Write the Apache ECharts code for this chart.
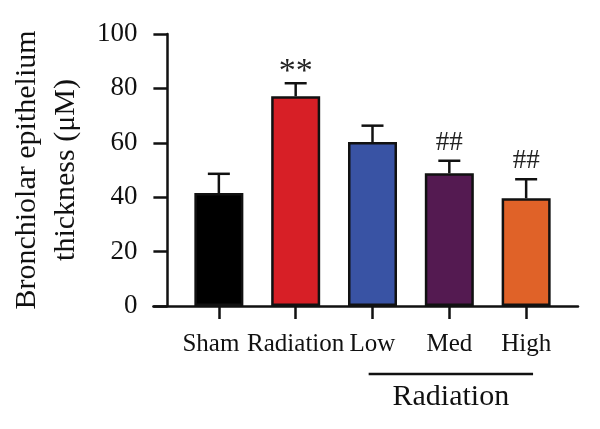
<!DOCTYPE html>
<html>
<head>
<meta charset="utf-8">
<script src="https://cdn.jsdelivr.net/npm/echarts@6/dist/echarts.min.js"></script>
<style>
  html, body { margin: 0; padding: 0; background: #fff; }
  #chart { width: 600px; height: 429px; }
</style>
</head>
<body>
<div id="chart"></div>
<script>
// values
const categories = ['Sham', 'Radiation', 'Low', 'Med', 'High'];
const means = [41.5, 77.1, 60.3, 48.8, 39.6];
const sds = [7.1, 4.8, 6.0, 4.6, 7.0];
const marks = ['', '**', '', '##', '##'];
const yTicks = [0, 20, 40, 60, 80, 100];
const groupLabel = 'Radiation';
const groupSpan = [2, 4]; // Low .. High

const barColors = ['#000000', '#d71f26', '#3953a4', '#541a51', '#e06228'];
const serif = '"Liberation Serif", "DejaVu Serif", serif';

const chart = echarts.init(document.getElementById('chart'));

const barData = categories.map((c, i) => ({
  value: [i, means[i]],
  itemStyle: { color: barColors[i] },
}));
const errData = categories.map((c, i) => [i, means[i], sds[i], i]);

chart.setOption({
  animation: false,
  grid: { left: 153, right: 22, top: 34, bottom: 123 },
  xAxis: {
    type: 'value',
    min: -0.852,
    max: 4.675,
    splitLine: { show: false },
    axisLine: { lineStyle: { color: '#111', width: 2.5 } },
    axisTick: {
      customValues: categories.map((c, i) => i),
      length: 13,
      lineStyle: { color: '#111', width: 2.5 },
    },
    axisLabel: {
      customValues: categories.map((c, i) => i),
      // first label sits a little left of its tick in the original
      formatter: (v) => (v === 0 ? '{s|' + categories[0] + '}' : categories[Math.round(v)]),
      rich: { s: { padding: [0, 16, 0, 0], fontFamily: serif, fontSize: 25, color: '#111' } },
      margin: 26,
      fontFamily: serif,
      fontSize: 25,
      color: '#111',
    },
  },
  yAxis: {
    type: 'value',
    min: 0,
    max: 100,
    interval: 20,
    offset: -14,
    splitLine: { show: false },
    axisLine: { show: true, onZero: false, lineStyle: { color: '#111', width: 2.5 } },
    axisTick: { show: true, length: 14, lineStyle: { color: '#111', width: 2.5 } },
    axisLabel: {
      margin: 30,
      fontFamily: serif,
      fontSize: 27,
      color: '#111',
      formatter: (v) => (yTicks.indexOf(v) >= 0 ? String(v) : ''),
    },
    name: 'Bronchiolar epithelium\nthickness (μM)',
    nameLocation: 'middle',
    nameRotate: 90,
    nameGap: 74,
    nameTextStyle: {
      fontFamily: serif,
      fontSize: 30,
      lineHeight: 39,
      color: '#111',
    },
  },
  series: [
    {
      type: 'bar',
      data: barData,
      barWidth: 49,
      itemStyle: { borderColor: '#111', borderWidth: 2.5 },
      z: 2,
    },
    {
      type: 'custom',
      data: errData,
      z: 3,
      renderItem: (params, api) => {
        const x = api.value(0);
        const m = api.value(1);
        const s = api.value(2);
        const idx = api.value(3);
        const base = api.coord([x, m]);
        const top = api.coord([x, m + s]);
        const half = 11;
        const stroke = { stroke: '#111', lineWidth: 2.5 };
        const children = [
          { type: 'line', shape: { x1: base[0], y1: base[1], x2: top[0], y2: top[1] }, style: stroke },
          { type: 'line', shape: { x1: top[0] - half, y1: top[1], x2: top[0] + half, y2: top[1] }, style: stroke },
        ];
        const mark = marks[idx];
        if (mark) {
          const star = mark.indexOf('*') >= 0;
          children.push({
            type: 'text',
            style: {
              text: mark,
              x: top[0],
              y: top[1] - (star ? 11 : 18),
              align: 'center',
              verticalAlign: 'middle',
              font: (star ? '34px ' : '27px ') + serif,
              fill: '#222',
            },
          });
        }
        return { type: 'group', children: children };
      },
    },
  ],
});

// group bracket under Low / Med / High
const p0 = chart.convertToPixel({ gridIndex: 0 }, [groupSpan[0] - 0.05, 0]);
const p1 = chart.convertToPixel({ gridIndex: 0 }, [groupSpan[1] + 0.09, 0]);
chart.setOption({
  graphic: [
    {
      type: 'line',
      shape: { x1: p0[0], y1: 374, x2: p1[0], y2: 374 },
      style: { stroke: '#111', lineWidth: 2.5 },
    },
    {
      type: 'text',
      x: (p0[0] + p1[0]) / 2,
      y: 397,
      style: {
        text: groupLabel,
        align: 'center',
        verticalAlign: 'middle',
        font: '30px ' + serif,
        fill: '#111',
      },
    },
  ],
});
</script>
</body>
</html>
